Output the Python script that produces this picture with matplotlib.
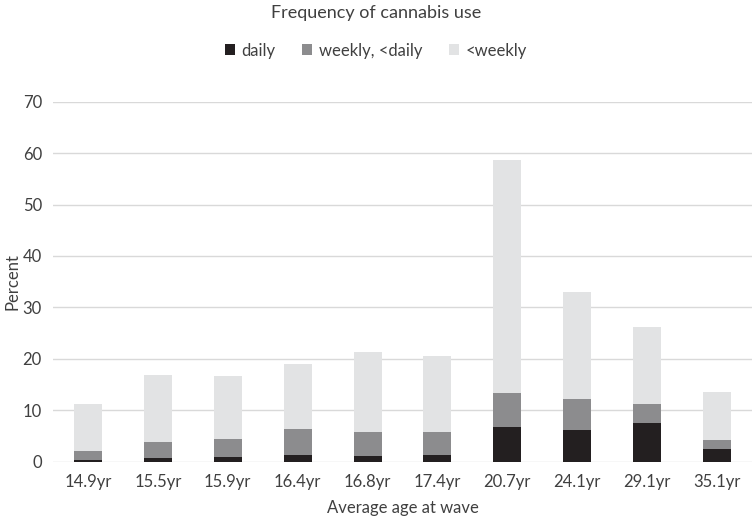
import matplotlib
matplotlib.use("Agg")
import matplotlib.pyplot as plt
from matplotlib.patches import Patch

# Data (percent)
ages = ["14.9yr", "15.5yr", "15.9yr", "16.4yr", "16.8yr",
        "17.4yr", "20.7yr", "24.1yr", "29.1yr", "35.1yr"]
daily = [0.3, 0.7, 0.9, 1.4, 1.2, 1.4, 6.8, 6.1, 7.5, 2.4]
weekly_cum = [2.0, 3.8, 4.5, 6.3, 5.8, 5.8, 13.4, 12.2, 11.2, 4.3]
total = [11.3, 16.9, 16.7, 19.0, 21.4, 20.5, 58.7, 33.0, 26.2, 13.6]
series_names = ["daily", "weekly, <daily", "<weekly"]

weekly = [w - d for w, d in zip(weekly_cum, daily)]
less_weekly = [t - w for t, w in zip(total, weekly_cum)]

plt.rcParams["font.family"] = ["Lato", "DejaVu Sans"]
text_col = "#404040"
colors = ["#231f20", "#8c8c8e", "#e2e3e4"]

fig = plt.figure(figsize=(7.52, 5.21), dpi=100)
ax = fig.add_axes([0.0705, 0.1138, 0.9295, 0.691])

x = range(len(ages))
w = 0.4
ax.bar(x, daily, w, color=colors[0], zorder=3)
ax.bar(x, weekly, w, bottom=daily, color=colors[1], zorder=3)
ax.bar(x, less_weekly, w, bottom=weekly_cum, color=colors[2], zorder=3)

ax.set_xlim(-0.5, len(ages) - 0.5)
ax.set_ylim(0, 70)
ax.set_yticks(range(0, 71, 10))
ax.set_xticks(list(x))
ax.set_xticklabels(ages)
ax.grid(axis="y", color="#d9d9d9", linewidth=1.0, zorder=0)
for s in ax.spines.values():
    s.set_visible(False)
ax.tick_params(axis="both", length=0, labelsize=12, colors=text_col)
ax.tick_params(axis="y", pad=8)
ax.tick_params(axis="x", pad=9)

ax.set_xlabel("Average age at wave", fontsize=12, color=text_col, labelpad=7)
ax.set_ylabel("Percent", fontsize=12, color=text_col)
ax.yaxis.set_label_coords(-0.047, 0.5)

fig.text(0.5, 0.975, "Frequency of cannabis use", ha="center", va="center",
         fontsize=13, color=text_col)

handles = [Patch(facecolor=c, edgecolor="none") for c in colors]
fig.legend(handles, series_names, loc="center", bbox_to_anchor=(0.5, 0.903),
           ncol=3, frameon=False, fontsize=12, handlelength=0.6,
           handleheight=0.6, handletextpad=0.4, columnspacing=1.6,
           labelcolor=text_col)

fig.savefig("out.png", dpi=100)
